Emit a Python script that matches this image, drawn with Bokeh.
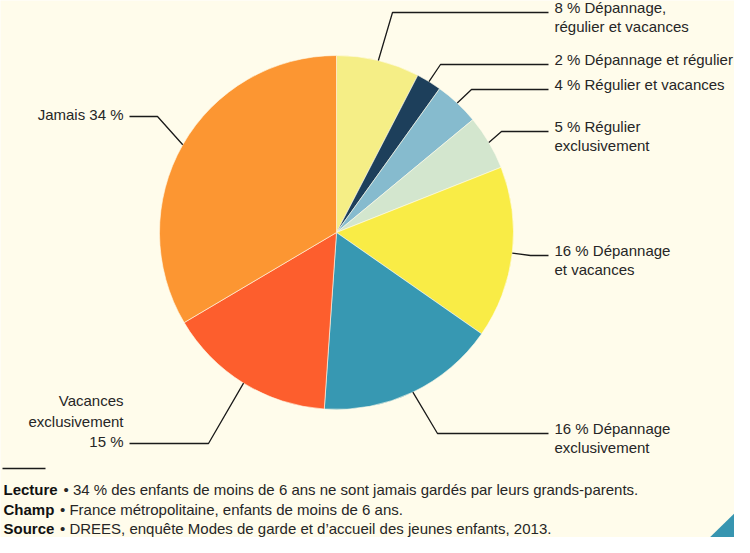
import math
from bokeh.plotting import figure
from bokeh.models import Range1d, ColumnDataSource
from bokeh.core.properties import value
from bokeh.embed import file_html
from bokeh.resources import INLINE

# ---------------- data ----------------
categories = [
    "Dépannage, régulier et vacances",
    "Dépannage et régulier",
    "Régulier et vacances",
    "Régulier exclusivement",
    "Dépannage et vacances",
    "Dépannage exclusivement",
    "Vacances exclusivement",
    "Jamais",
]
shares = [7.6, 2.3, 4.1, 5.0, 15.7, 16.4, 15.4, 33.5]
label_lines = [
    ["8 % Dépannage,", "régulier et vacances"],
    ["2 % Dépannage et régulier"],
    ["4 % Régulier et vacances"],
    ["5 % Régulier", "exclusivement"],
    ["16 % Dépannage", "et vacances"],
    ["16 % Dépannage", "exclusivement"],
    ["Vacances", "exclusivement", "15 %"],
    ["Jamais 34 %"],
]
colors = ["#F5EE86", "#1D3F5B", "#86BBCE", "#D3E6CE",
          "#F9EC46", "#3798B2", "#FD5E2D", "#FC9632"]
footer_heads = ["Lecture", "Champ", "Source"]
footer_texts = [
    "\u2022 34 % des enfants de moins de 6 ans ne sont jamais gardés par leurs grands-parents.",
    "\u2022 France métropolitaine, enfants de moins de 6 ans.",
    "\u2022 DREES, enquête Modes de garde et d\u2019accueil des jeunes enfants, 2013.",
]

# ---------------- layout (page pixel space of the reference) ----------------
BG = "#FFFCEB"
TXT = "#262626"
FONT = "Liberation Sans"
CX, CY, R = 344, 240, 177
label_side = ["R", "R", "R", "R", "R", "R", "L", "L"]
elbow_x = [400, 448, 479, 509, 538, 445, 216, 165]
leader_y = [20, 72, 97, 139, 263, 441, 451, 124]
END_R, END_L = 556, 137
TEXT_R, TEXT_L = 562, 131

p = figure(width=734, height=537, x_range=Range1d(8, 742), y_range=Range1d(-545, -8),
           output_backend="svg", toolbar_location=None, min_border=0,
           x_axis_location=None, y_axis_location=None)
p.grid.visible = False
p.outline_line_color = None
p.background_fill_color = BG
p.border_fill_color = BG

# wedges computed from the shares (clockwise from 12 o'clock)
total = sum(shares)
starts, ends, mids = [], [], []
cum = 0.0
for s in shares:
    a0 = cum / total
    cum += s
    a1 = cum / total
    starts.append(math.pi / 2 - 2 * math.pi * a0)
    ends.append(math.pi / 2 - 2 * math.pi * a1)
    mids.append(2 * math.pi * (a0 + a1) / 2)

src = ColumnDataSource(dict(cat=categories, share=shares, start=starts, end=ends, color=colors))
p.wedge(x=CX, y=-CY, radius=R, start_angle="start", end_angle="end", direction="clock",
        fill_color="color", line_color=BG, line_width=0.6, source=src)

# leader lines and labels
xs, ys = [], []
tx, ty, tt, ta = [], [], [], []
for i, lines in enumerate(label_lines):
    th = mids[i]
    sx = CX + R * math.sin(th)
    sy = CY - R * math.cos(th)
    ly = leader_y[i]
    if label_side[i] == "R":
        xs.append([sx, elbow_x[i], END_R])
        ys.append([-sy, -ly, -ly])
        for k, ln in enumerate(lines):
            tx.append(TEXT_R); ty.append(-(ly - 5 + 19 * k)); tt.append(ln); ta.append("left")
    else:
        xs.append([sx, elbow_x[i], END_L])
        ys.append([-sy, -ly, -ly])
        n = len(lines)
        for k, ln in enumerate(lines):
            off = (n - 1 - k) * 20.5
            tx.append(TEXT_L); ty.append(-(ly - 2 - off)); tt.append(ln); ta.append("right")

p.multi_line(xs=xs, ys=ys, line_color="#1A1A1A", line_width=1.3)
p.text(x=tx, y=ty, text=tt, text_align=ta, text_baseline="middle",
       text_font=value(FONT), text_font_size=value("15px"), text_color=TXT)

# footer
p.line(x=[10, 53], y=[-476, -476], line_color="#1A1A1A", line_width=1.6)
foot_y = [497, 516.5, 535.5]
head_w = [54, 50.5, 50.5]
p.text(x=[11, 11, 11], y=[-v for v in foot_y], text=footer_heads, text_align="left",
       text_baseline="middle", text_font=value(FONT), text_font_size=value("15px"),
       text_font_style="bold", text_color="#111111")
p.text(x=[11 + w + 6 for w in head_w], y=[-v for v in foot_y], text=footer_texts,
       text_align="left", text_baseline="middle", text_font=value(FONT),
       text_font_size=value("15px"), text_color=TXT)

# decorative corner triangle
p.patch(x=[709, 750, 750], y=[-553, -513, -553], fill_color="#3795B0", line_color=None)

open("out.html", "w").write(file_html(p, INLINE))
